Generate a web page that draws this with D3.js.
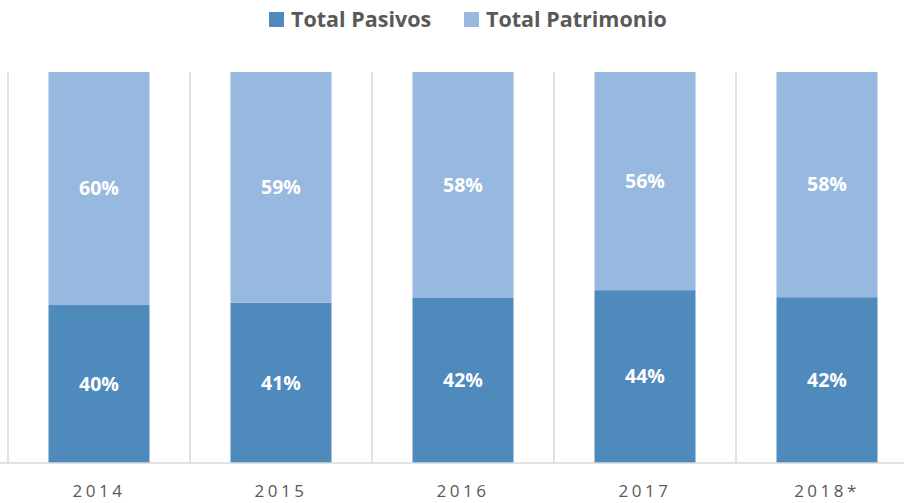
<!DOCTYPE html>
<html><head><meta charset="utf-8">
<script src="https://cdn.jsdelivr.net/npm/d3@7"></script>
<style>body{margin:0;background:#fff}svg{display:block}</style>
</head><body><svg id="c" width="904" height="503"></svg>
<script>
const categories = ["2014","2015","2016","2017","2018*"];
const pasivos = [40.4, 41, 42.2, 44.2, 42.4];
const patrimonio = [59.6, 59, 57.8, 55.8, 57.6];
const seriesNames = ["Total Pasivos","Total Patrimonio"];
const colors = ["#4f8abd","#98b9df"];

const svg = d3.select("#c");
const m = {left:8, right:-14, top:72, bottom:40};
const W = 904, H = 503;
const FONT = "'Open Sans', Lato, sans-serif";
const x = d3.scaleBand().domain(categories).range([m.left, W - m.right]).paddingInner(0).paddingOuter(0);
const y = d3.scaleLinear().domain([0,100]).range([H - m.bottom, m.top]);
const bw = x.bandwidth()*0.555;

const rows = categories.map((c,i)=>({cat:c, p:pasivos[i], q:patrimonio[i]}));
const stack = d3.stack().keys(["p","q"])(rows);

// vertical gridlines
const g = svg.append("g");
g.selectAll("line.grid").data(categories).join("line")
  .attr("x1",d=>x(d)).attr("x2",d=>x(d))
  .attr("y1",y(100)).attr("y2",y(0))
  .attr("stroke","#d9d9d9").attr("stroke-width",1.5);

stack.forEach((s,si)=>{
  g.selectAll("rect.s"+si).data(s).join("rect")
    .attr("x",d=>x(d.data.cat)+(x.bandwidth()-bw)/2)
    .attr("width",bw)
    .attr("y",d=>y(d[1]))
    .attr("height",d=>y(d[0])-y(d[1]))
    .attr("fill",colors[si]);
  g.selectAll("text.l"+si).data(s).join("text")
    .attr("x",d=>x(d.data.cat)+x.bandwidth()/2)
    .attr("y",d=>(y(d[0])+y(d[1]))/2)
    .attr("dy","0.35em")
    .attr("text-anchor","middle")
    .attr("fill","#fff")
    .attr("font-family",FONT)
    .attr("font-weight","bold")
    .attr("font-size",19.5)
    .text(d=>Math.round(d[1]-d[0])+"%");
});

// baseline
g.append("line").attr("x1",0).attr("x2",W).attr("y1",y(0)).attr("y2",y(0))
  .attr("stroke","#d9d9d9").attr("stroke-width",1.5);

// x axis
const xa = svg.append("g").attr("transform",`translate(0,${y(0)})`)
  .call(d3.axisBottom(x).tickSize(0).tickPadding(0));
xa.select(".domain").remove();
xa.selectAll("text")
  .attr("y",34)
  .attr("dy",0)
  .attr("font-family",FONT)
  .attr("font-size",17)
  .attr("letter-spacing","3.5px")
  .attr("fill","#595959");

// legend
const leg = svg.append("g");
const legX = [269, 464];
seriesNames.forEach((n,i)=>{
  leg.append("rect").attr("x",legX[i]).attr("y",12).attr("width",15).attr("height",15).attr("fill",colors[i]);
  leg.append("text").attr("x",legX[i]+22).attr("y",27)
    .attr("font-family",FONT)
    .attr("font-weight","bold").attr("font-size",21.5).attr("fill","#595959").text(n);
});
</script></body></html>
